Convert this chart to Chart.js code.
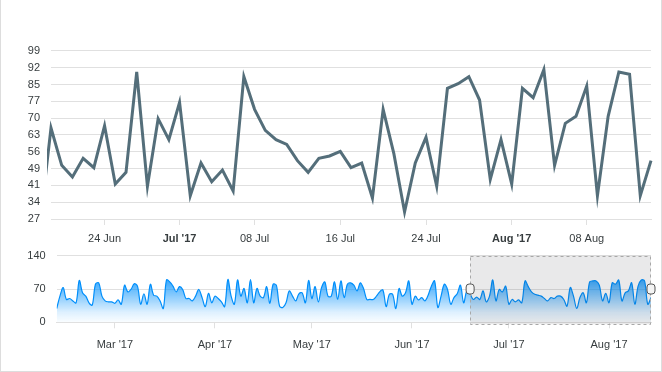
<!DOCTYPE html>
<html>
<head>
<meta charset="utf-8">
<script src="https://cdn.jsdelivr.net/npm/chart.js@4.4.0/dist/chart.umd.min.js"></script>
<style>
  body { margin: 0; background: #fff; }
  #main { position: absolute; left: 0; top: 0; }
  #brush { position: absolute; left: 0; top: 245px; }
  #frame { position: absolute; left: 0; top: 0; width: 662px; height: 372px; box-sizing: border-box;
           border: 1px solid #ddd; border-top: none; pointer-events: none; }
</style>
</head>
<body>
<canvas id="main" width="662" height="250"></canvas>
<canvas id="brush" width="662" height="127"></canvas>
<div id="frame"></div>
<script>
// days are counted as day-of-year 2017 (1 = 1 Jan)
var topStartDay = 169; // 18 Jun
var topValues = [26,
  66, 50, 45, 53, 49, 67, 42, 47, 90, 41, 70, 61, 77, 37,
  51, 43, 48, 39, 88, 74, 65, 61, 59, 52, 47, 53, 54, 56,
  49, 51, 36, 74, 55, 30, 51, 62, 41, 83, 85, 88, 78, 44,
  61, 42, 83, 79, 91, 50, 68, 71, 84, 37, 71, 90, 89, 37, 52];

var brushStartDay = 42; // 11 Feb
var brushValues = [
  29, 55, 73, 48, 50, 45, 41, 88, 62, 55, 41, 36, 80, 83, 55, 45, 43, 43, 40, 47,
  38, 78, 64, 69, 81, 76, 38, 60, 38, 80, 57, 55, 45, 29, 89, 85, 76, 64, 75, 69,
  50, 50, 45, 55, 69, 52, 33, 61, 41, 55, 50, 43, 33, 90, 55, 38, 89, 55, 71, 41,
  90, 41, 71, 55, 52, 75, 40, 80, 78, 34, 31, 41, 66, 55, 45, 60, 62, 41, 88, 50,
  75, 43, 73, 85, 55, 55, 85, 48, 87, 52, 80, 83, 78, 66, 83, 71, 48, 48, 48, 55,
  64, 68, 33, 59, 59, 29, 71, 55, 62, 87, 38, 55, 47, 52, 45, 57, 76, 87, 31, 55,
  80, 69, 38, 52,
  60, 78, 41, 66, 59, 48, 53, 48, 66, 43, 55, 89, 45, 69, 64, 76, 38, 48, 43, 47,
  41, 87, 75, 64, 59, 57, 55, 50, 45, 52, 50, 55, 55, 48, 34, 73, 55, 29, 52, 62,
  41, 85, 87, 87, 78, 45, 61, 41, 83, 80, 89, 45, 62, 66, 83, 38, 76, 89, 87, 38, 52];

// selected range in the brush = range of the main chart
var selectionStart = 170; // 19 Jun
var selectionEnd = 226;   // 14 Aug

var topTickDays = [175, 182, 189, 197, 205, 213, 220];
var topTickLabels = ['24 Jun', "Jul '17", '08 Jul', '16 Jul', '24 Jul', "Aug '17", '08 Aug'];
var topBoldDays = [182, 213];

var brushTickDays = [60, 91, 121, 152, 182, 213];
var brushTickLabels = ["Mar '17", "Apr '17", "May '17", "Jun '17", "Jul '17", "Aug '17"];

var topYMin = 27, topYMax = 99, topYStep = 7.2;
var brushYTicks = [0, 70, 140];

var FONT = 'Helvetica, Arial, "Liberation Sans", sans-serif';
var TEXT = '#373d3f';
var GRID = '#e0e0e0';

function toPoints(start, values) {
  return values.map(function (v, i) { return { x: start + i, y: v }; });
}

// fixed axis sizes, and no extra room asked for the end labels
function fixWidth(w) {
  return function (s) { s.width = w; s.paddingTop = 0; s.paddingBottom = 0; };
}
function fixHeight(h) {
  return function (s) { s.height = h; s.paddingLeft = 0; s.paddingRight = 0; };
}

new Chart(document.getElementById('main'), {
  type: 'line',
  data: {
    datasets: [{
      data: toPoints(topStartDay, topValues),
      borderColor: '#546E7A',
      borderWidth: 3,
      pointRadius: 0,
      tension: 0,
      borderJoinStyle: 'miter',
      clip: { left: 4, top: 3, right: 3, bottom: 3 }
    }]
  },
  options: {
    responsive: false,
    animation: false,
    layout: { padding: { top: 51, right: 11, left: 0, bottom: 0 } },
    plugins: { legend: { display: false }, tooltip: { enabled: false } },
    scales: {
      x: {
        type: 'linear',
        min: selectionStart,
        max: selectionEnd,
        afterFit: fixHeight(31),
        afterBuildTicks: function (s) {
          s.ticks = topTickDays.map(function (d) { return { value: d }; });
        },
        grid: { drawOnChartArea: false, drawTicks: true, tickLength: 6, color: GRID },
        border: { display: true, color: GRID },
        ticks: {
          autoSkip: false, maxRotation: 0, padding: 7, color: TEXT,
          font: function (ctx) {
            var bold = ctx.tick && topBoldDays.indexOf(ctx.tick.value) >= 0;
            return { family: FONT, size: 11, weight: bold ? 'bold' : 'normal' };
          },
          callback: function (v, i) { return topTickLabels[i]; }
        }
      },
      y: {
        min: topYMin,
        max: topYMax,
        afterFit: fixWidth(51),
        afterBuildTicks: function (s) {
          var t = [];
          for (var v = topYMin; v <= topYMax + 0.01; v += topYStep) t.push({ value: v });
          s.ticks = t;
        },
        grid: { color: GRID, drawTicks: false },
        border: { display: false },
        ticks: {
          padding: 11, color: TEXT, font: { family: FONT, size: 11 },
          callback: function (v) { return Math.round(v); }
        }
      }
    }
  }
});

// grey selection box with the two resize handles
var selectionPlugin = {
  id: 'selection',
  afterDatasetsDraw: function (chart) {
    var c = chart.ctx, ca = chart.chartArea, xs = chart.scales.x;
    var x1 = xs.getPixelForValue(selectionStart), x2 = xs.getPixelForValue(selectionEnd);
    c.save();
    c.fillStyle = 'rgba(36,41,46,0.1)';
    c.fillRect(x1, ca.top, x2 - x1, ca.bottom - ca.top + 2);
    c.setLineDash([3, 3]);
    c.strokeStyle = '#a8a8a8';
    c.lineWidth = 1;
    c.strokeRect(Math.round(x1) + 0.5, Math.round(ca.top) + 0.5, Math.round(x2 - x1) - 1, Math.round(ca.bottom - ca.top) + 1);
    c.setLineDash([]);
    var my = (ca.top + ca.bottom) / 2;
    [x1, x2].forEach(function (x) {
      c.beginPath();
      c.roundRect(x - 4, my - 5, 8, 10, 3);
      c.fillStyle = '#f4f4f4';
      c.fill();
      c.strokeStyle = '#555';
      c.stroke();
    });
    c.restore();
  }
};

new Chart(document.getElementById('brush'), {
  type: 'line',
  data: {
    datasets: [{
      data: toPoints(brushStartDay, brushValues),
      borderColor: '#008FFB',
      borderWidth: 1.2,
      pointRadius: 0,
      tension: 0.35,
      fill: 'origin',
      backgroundColor: function (ctx) {
        var ca = ctx.chart.chartArea;
        if (!ca) return 'rgba(0,143,251,0.4)';
        var g = ctx.chart.ctx.createLinearGradient(0, ca.top, 0, ca.bottom);
        g.addColorStop(0, 'rgba(0,143,251,1)');
        g.addColorStop(0.2, 'rgba(0,143,251,0.95)');
        g.addColorStop(0.36, 'rgba(0,143,251,0.78)');
        g.addColorStop(0.5, 'rgba(0,143,251,0.6)');
        g.addColorStop(0.85, 'rgba(0,143,251,0.13)');
        g.addColorStop(1, 'rgba(0,143,251,0.02)');
        return g;
      }
    }]
  },
  plugins: [selectionPlugin],
  options: {
    responsive: false,
    animation: false,
    layout: { padding: { top: 10.7, right: 11, left: 0, bottom: 0 } },
    plugins: { legend: { display: false }, tooltip: { enabled: false } },
    scales: {
      x: {
        type: 'linear',
        min: brushStartDay,
        max: brushStartDay + brushValues.length - 1,
        afterFit: fixHeight(49.7),
        afterBuildTicks: function (s) {
          s.ticks = brushTickDays.map(function (d) { return { value: d }; });
        },
        grid: { drawOnChartArea: false, drawTicks: true, tickLength: 6, color: GRID },
        border: { display: true, color: GRID },
        ticks: {
          autoSkip: false, maxRotation: 0, padding: 10, color: TEXT,
          font: { family: FONT, size: 11 },
          callback: function (v, i) { return brushTickLabels[i]; }
        }
      },
      y: {
        min: 0,
        max: 140,
        afterFit: fixWidth(56.7),
        afterBuildTicks: function (s) {
          s.ticks = brushYTicks.map(function (v) { return { value: v }; });
        },
        grid: { color: GRID, drawTicks: false },
        border: { display: false },
        ticks: { padding: 11, color: TEXT, font: { family: FONT, size: 11 } }
      }
    }
  }
});
</script>
</body>
</html>
